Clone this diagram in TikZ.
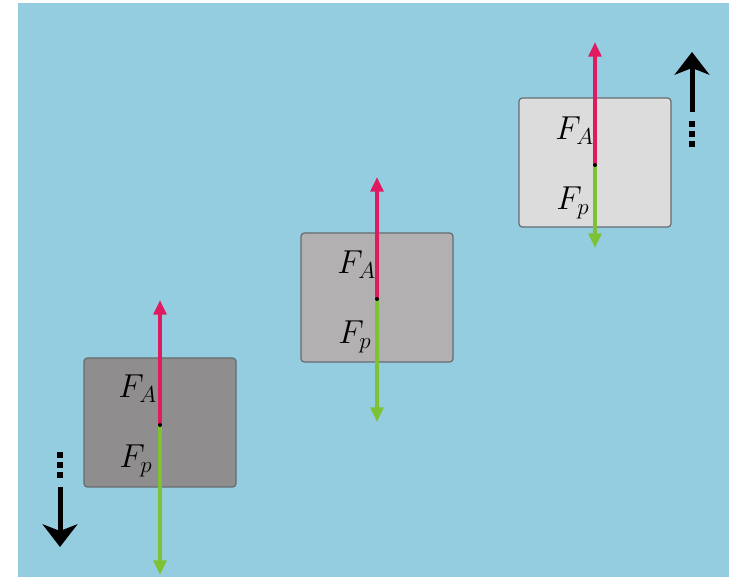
\documentclass[tikz,border=0pt]{standalone}
\usepackage{tikz}
\usetikzlibrary{arrows.meta,positioning}
\definecolor{water}{RGB}{148,205,224}
\definecolor{edge}{RGB}{100,108,112}
\definecolor{sinkgray}{RGB}{143,141,141}
\definecolor{floatgray}{RGB}{178,176,176}
\definecolor{risegray}{RGB}{221,220,220}
\definecolor{buoyred}{RGB}{224,26,96}
\definecolor{gravgreen}{RGB}{124,194,52}

\begin{document}
\begin{tikzpicture}[
  x=0.75pt, y=-0.75pt,
  body/.style={draw=edge, line width=0.9pt, rounded corners=2.5pt, minimum width=114pt, minimum height=96.75pt, inner sep=0pt},
  buoy/.style={draw=buoyred, line width=3pt, -{Triangle[length=11pt,width=9.5pt]}},
  grav/.style={draw=gravgreen, line width=3pt, -{Triangle[length=11pt,width=9.5pt]}},
  force/.style={font=\fontsize{23.5}{24}\selectfont, inner sep=0pt, anchor=base west},
  move/.style={line width=3.75pt, -{Stealth[length=17pt,width=26pt,inset=5pt]}},
  trail/.style={line width=4.5pt, dash pattern=on 4.5pt off 3pt}
]
\useasboundingbox (0,0) rectangle (729,577);
\fill[white] (0,0) rectangle (729,577);
\fill[water] (18,3) rectangle (729,577);

% bodies
\node[body, fill=sinkgray] (sinker) at (160,422.5) {};
\node[body, fill=floatgray] (floater) at (377,297.5) {};
\node[body, fill=risegray] (riser) at (595,162.5) {};

% forces
\coordinate (o1) at (160,425);
\coordinate (a1) at (160,300);
\coordinate (p1) at (160,575);
\coordinate (o2) at (377,299);
\coordinate (a2) at (377,177);
\coordinate (p2) at (377,422);
\coordinate (o3) at (595,165);
\coordinate (a3) at (595,42);
\coordinate (p3) at (595,248);

\draw[buoy] (o1) -- (a1);
\draw[grav] (o1) -- (p1);
\draw[buoy] (o2) -- (a2);
\draw[grav] (o2) -- (p2);
\draw[buoy] (o3) -- (a3);
\draw[grav] (o3) -- (p3);
\fill (o1) circle (1.5pt);
\fill (o2) circle (1.5pt);
\fill (o3) circle (1.5pt);

\node[force] (fa1) at (118,398) {$F_A$};
\node[force] (fp1) at (119,468) {$F_p$};
\node[force] (fa2) at (337,274) {$F_A$};
\node[force] (fp2) at (338,344) {$F_p$};
\node[force] (fa3) at (555,140) {$F_A$};
\node[force] (fp3) at (556,210) {$F_p$};

% motion
\coordinate (d0) at (60,452);
\coordinate (d1) at (60,481);
\coordinate (d2) at (60,487);
\coordinate (d3) at (60,547);
\draw[trail] (d0) -- (d1);
\draw[move] (d2) -- (d3);

\coordinate (u0) at (692,147);
\coordinate (u1) at (692,118);
\coordinate (u2) at (692,112);
\coordinate (u3) at (692,52);
\draw[trail] (u0) -- (u1);
\draw[move] (u2) -- (u3);
\end{tikzpicture}
\end{document}
